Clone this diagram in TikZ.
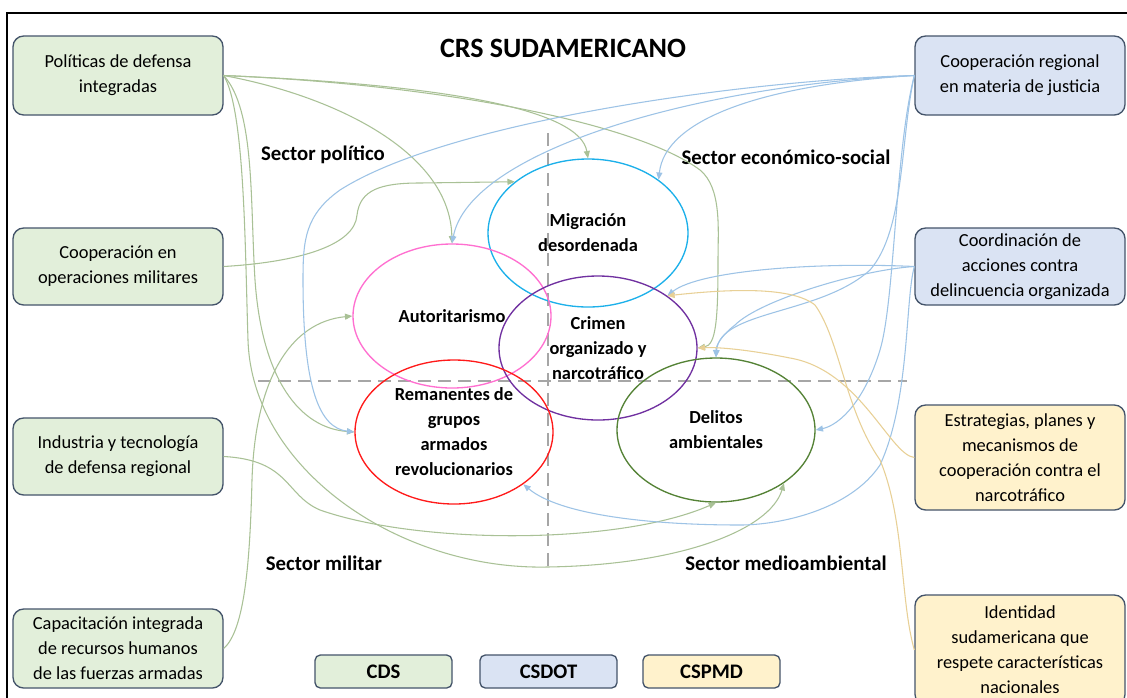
\documentclass[tikz,border=0pt]{standalone}
\usepackage{fontspec}
\setmainfont{Carlito}
\usetikzlibrary{shapes.geometric,arrows.meta}
\definecolor{cdsfill}{HTML}{E2EFDA}
\definecolor{csdfill}{HTML}{DAE3F3}
\definecolor{cspfill}{HTML}{FFF2CC}
\definecolor{boxline}{HTML}{44546A}
\definecolor{cdsline}{HTML}{A9C196}
\definecolor{csdline}{HTML}{9DC3E6}
\definecolor{cspline}{HTML}{E8D096}
\definecolor{cmig}{HTML}{1CB0EA}
\definecolor{caut}{HTML}{FF6FD0}
\definecolor{ccrim}{HTML}{7030A0}
\definecolor{crem}{HTML}{FF1A1A}
\definecolor{cdel}{HTML}{548235}
\definecolor{dashgray}{HTML}{A6A6A6}
\begin{document}
\begin{tikzpicture}[x=0.75pt,y={(0pt,-0.75pt)},
  box/.style={draw=boxline, line width=1pt, rounded corners=8pt, minimum width=157.5pt, align=center, inner sep=2pt, font=\fontsize{13.8}{18.75}\selectfont},
  cdsbox/.style={box, fill=cdsfill},
  csdbox/.style={box, fill=csdfill},
  cspbox/.style={box, fill=cspfill},
  legbox/.style={draw=boxline, line width=1pt, rounded corners=4pt, minimum width=102.75pt, minimum height=24.75pt, inner sep=0pt, font=\bfseries\fontsize{15.5}{18}\selectfont},
  elli/.style={ellipse, line width=1pt, inner sep=0pt, minimum width=148.5pt, minimum height=108pt},
  etext/.style={align=center, font=\bfseries\fontsize{13.8}{18.75}\selectfont},
  sector/.style={font=\bfseries\fontsize{15.6}{18}\selectfont},
  tip/.style={-{Triangle[length=5.5pt,width=4.5pt]}},
  cds/.style={draw=cdsline, line width=0.8pt, tip},
  csd/.style={draw=csdline, line width=0.8pt, tip},
  csp/.style={draw=cspline, line width=0.8pt, tip},
  divider/.style={draw=dashgray, line width=1.5pt, dash pattern=on 10pt off 5pt}
]
\clip (0,0) rectangle (1127,697);
\fill[white] (0,0) rectangle (1127,697);
\draw[line width=1.5pt] (7,700) -- (7,13) -- (1130,13);

% title and sectors
\node[font=\bfseries\fontsize{21}{24}\selectfont] (title) at (563,48) {CRS SUDAMERICANO};
\node[sector] (spol) at (323,155) {Sector político};
\node[sector] (seco) at (786,157) {Sector económico-social};
\node[sector] (smil) at (324,563) {Sector militar};
\node[sector] (smed) at (786,563) {Sector medioambiental};

% dividers
\coordinate (vtop) at (548,133);
\coordinate (vbot) at (548,572);
\coordinate (hl) at (258,381);
\coordinate (hr) at (907,381);
\draw[divider] (vtop) -- (vbot);
\draw[divider] (hl) -- (hr);

% ellipses
\node[elli, draw=cmig, minimum width=150pt, minimum height=111pt] (mig) at (588,233) {};
\node[elli, draw=caut] (aut) at (452,316) {};
\node[elli, draw=ccrim] (crim) at (598,348) {};
\node[elli, draw=crem] (rem) at (454,432) {};
\node[elli, draw=cdel] (del) at (716,430) {};

% boxes
\node[cdsbox, minimum height=59.25pt] (pol) at (118,75.5) {Políticas de defensa\\integradas};
\node[cdsbox, minimum height=57.75pt] (coop) at (118,266.5) {Cooperación en\\operaciones militares};
\node[cdsbox, minimum height=57.75pt] (ind) at (118,456.5) {Industria y tecnología\\de defensa regional};
\node[cdsbox, minimum height=59.25pt] (cap) at (118,648.5) {Capacitación integrada\\de recursos humanos\\de las fuerzas armadas};
\node[csdbox, minimum height=59.25pt] (jus) at (1020,75.5) {Cooperación regional\\en materia de justicia};
\node[csdbox, minimum height=57.75pt] (coord) at (1020,266.5) {Coordinación de\\acciones contra\\delincuencia organizada};
\node[cspbox, minimum height=78.75pt] (estr) at (1020,457.5) {Estrategias, planes y\\mecanismos de\\cooperación contra el\\narcotráfico};
\node[cspbox, minimum height=82.5pt] (ident) at (1020,650) {Identidad\\sudamericana que\\respete características\\nacionales};

% legend
\node[legbox, fill=cdsfill] (lcds) at (383.5,671.5) {CDS};
\node[legbox, fill=csdfill] (lcsd) at (548.5,671.5) {CSDOT};
\node[legbox, fill=cspfill] (lcsp) at (711.5,671.5) {CSPMD};

% CDS connectors
\draw[cds] (pol.east) .. controls (450,85) and (580,110) .. (mig.north);
\draw[cds] (pol.east) .. controls (450,85) and (640,125) .. (700,170) .. controls (722,188) and (718,230) .. (718,260) .. controls (718,320) and (716,345) .. (crim.east);
\draw[cds] (pol.east) .. controls (330,95) and (450,150) .. (aut.north);
\draw[cds] (pol.east) .. controls (255,110) and (250,200) .. (255,280) .. controls (262,380) and (300,428) .. (rem.west);
\draw[cds] (pol.east) .. controls (245,110) and (245,250) .. (248,340) .. controls (252,470) and (400,570) .. (547,567) .. controls (680,565) and (770,530) .. (del.-38);
\draw[cds] (coop.east) .. controls (300,262) and (355,245) .. (357,215) .. controls (360,190) and (380,183) .. (420,183) -- (mig.145);
\draw[cds] (ind.east) .. controls (290,460) and (285,495) .. (320,510) .. controls (420,545) and (620,545) .. (del.south);
\draw[cds] (cap.east) .. controls (245,630) and (250,560) .. (252,480) .. controls (255,380) and (290,322) .. (aut.west);

% CSDOT connectors
\draw[csd] (jus.west) .. controls (750,80) and (450,120) .. (340,190) .. controls (305,215) and (303,240) .. (303,280) .. controls (303,390) and (320,428) .. (rem.west);
\draw[csd] (jus.west) .. controls (700,85) and (470,150) .. (aut.north);
\draw[csd] (jus.west) .. controls (760,85) and (665,120) .. (mig.37);
\draw[csd] (jus.west) .. controls (900,140) and (905,230) .. (870,270) .. controls (820,315) and (720,310) .. (del.north);
\draw[csd] (jus.west) .. controls (895,150) and (895,300) .. (880,350) .. controls (865,400) and (840,425) .. (del.east);
\draw[csd] (coord.west) .. controls (820,262) and (700,270) .. (crim.37);
\draw[csd] (coord.west) .. controls (860,270) and (760,300) .. (735,325) .. controls (722,335) and (716,345) .. (del.north);
\draw[csd] (coord.west) .. controls (905,300) and (910,400) .. (880,465) .. controls (850,510) and (780,525) .. (740,525) .. controls (650,525) and (560,515) .. (rem.-37);

% CSPMD connectors
\draw[csp] (estr.west) .. controls (890,455) and (860,370) .. (790,358) .. controls (750,350) and (720,347) .. (crim.east);
\draw[csp] (ident.west) .. controls (900,600) and (905,520) .. (880,460) .. controls (845,410) and (840,340) .. (815,305) .. controls (790,285) and (720,290) .. (crim.37);

% ellipse texts
\node[etext] (migt) at (mig) {Migración\\desordenada};
\node[etext] (autt) at (aut) {Autoritarismo};
\node[etext] (crimt) at (crim) {Crimen\\organizado y\\narcotráfico};
\node[etext] (remt) at (rem) {Remanentes de\\grupos\\armados\\revolucionarios};
\node[etext] (delt) at (del) {Delitos\\ambientales};
\end{tikzpicture}
\end{document}
